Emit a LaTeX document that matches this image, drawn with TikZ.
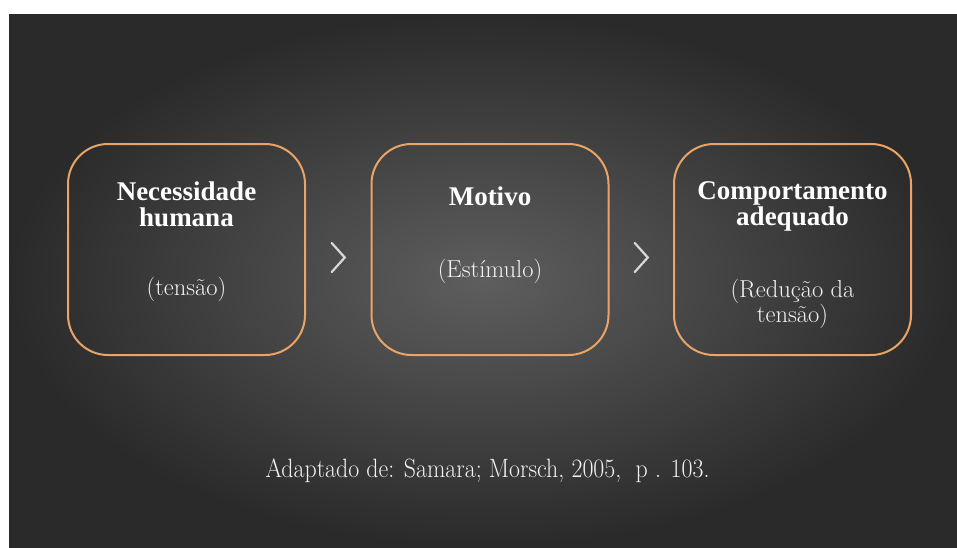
\documentclass[tikz,border=0pt]{standalone}
\usepackage{fontspec}
\usepackage{graphicx}
\newfontfamily\headfont{Liberation Serif}
\usetikzlibrary{calc}
\definecolor{bgout}{HTML}{2A2A2A}
\definecolor{bgin}{HTML}{5E5E5E}
\definecolor{boxline}{HTML}{E9A468}
\definecolor{lighttext}{HTML}{F2F2F2}
\definecolor{chev}{HTML}{D8D8D8}
\tikzset{
  x=1pt, y=-1pt,
  stagebox/.style={draw=boxline, line width=2pt, rounded corners=40pt,
    minimum width=237pt, minimum height=211pt, inner sep=0pt},
  headtext/.style={text=white, font=\headfont\bfseries\fontsize{27}{26}\selectfont,
    align=center, anchor=base, inner sep=0pt},
  subtext/.style={text=lighttext, font=\fontsize{24.5}{25}\selectfont,
    align=center, anchor=base, inner sep=0pt},
  chevron/.style={draw=chev, line width=2.2pt, line cap=round, line join=miter},
}
\begin{document}
\begin{tikzpicture}
\useasboundingbox (0,0) rectangle (957,547);
\fill[white] (0,0) rectangle (957,547);
\shade[inner color=bgin, outer color=bgout] (9,14) rectangle (957,547);

\node[stagebox] (b1) at (186.5,249.5) {};
\node[stagebox] (b2) at (490,249.5) {};
\node[stagebox] (b3) at (792.5,249.5) {};

\node[headtext] (h1) at (186.5,226) {Necessidade\\humana};
\node[subtext] (s1) at (186.5,295) {(tensão)};
\node[headtext] (h2) at (490,205) {Motivo};
\node[subtext] (s2) at (490,277) {(Estímulo)};
\node[headtext] (h3) at (792.5,225) {Comportamento\\adequado};
\node[subtext] (s3) at (792.5,322) {(Redução da\\tensão)};

\coordinate (c1) at ($(b1.east)!0.5!(b2.west)+(0,8)$);
\coordinate (c2) at ($(b2.east)!0.5!(b3.west)+(0,8)$);
\draw[chevron] ($(c1)+(-6.5,-14.5)$) -- ($(c1)+(6.5,0)$) -- ($(c1)+(-6.5,14.5)$);
\draw[chevron] ($(c2)+(-6.5,-14.5)$) -- ($(c2)+(6.5,0)$) -- ($(c2)+(-6.5,14.5)$);

\node[subtext, font=\fontsize{26.5}{30}\selectfont] (src) at (487.5,477) {\scalebox{0.9}[1]{Adaptado de: Samara; Morsch, 2005,\ \ p . 103.}};
\end{tikzpicture}
\end{document}
